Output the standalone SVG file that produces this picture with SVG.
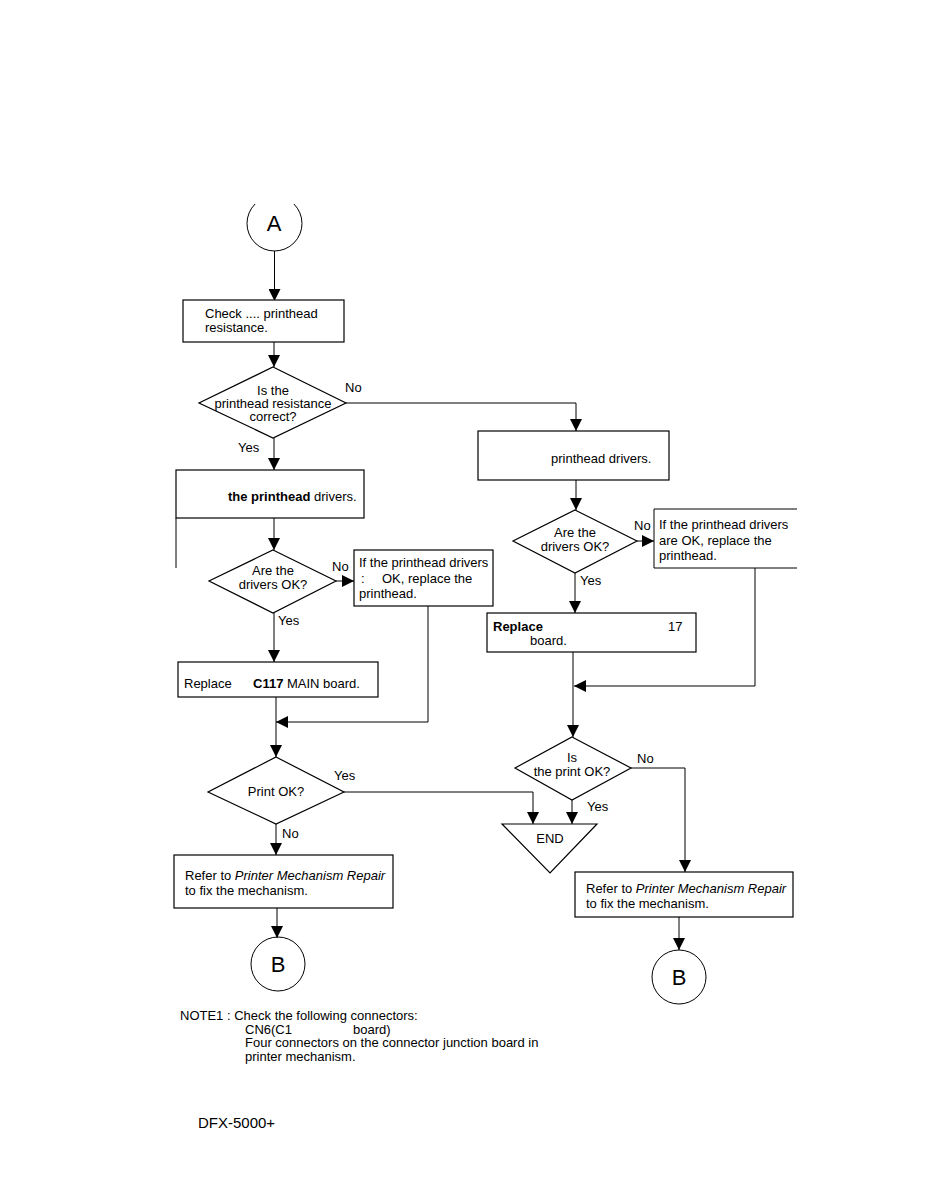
<svg xmlns="http://www.w3.org/2000/svg" width="932" height="1200" viewBox="0 0 932 1200">
<style>
.s{fill:none;stroke:#000;stroke-width:1}
.b{fill:#fff;stroke:#000;stroke-width:1.2}
.t{font-family:"Liberation Sans",Arial,sans-serif;font-size:13px;fill:#000}
.c{text-anchor:middle}
.big{font-family:"Liberation Sans",Arial,sans-serif;font-size:22px;fill:#000;text-anchor:middle}
</style>
<defs>
<marker id="ah" viewBox="0 0 10 10" refX="10" refY="5" markerWidth="13" markerHeight="12" markerUnits="userSpaceOnUse" orient="auto">
<path d="M0,0 L10,5 L0,10 z" fill="#000"/>
</marker>
</defs>
<rect width="932" height="1200" fill="#fff"/>

<g id="connectors">
<path class="s" d="M274.5,251 V301" marker-end="url(#ah)"/>
<path class="s" d="M274,342 V367" marker-end="url(#ah)"/>
<path class="s" d="M346,403 H576 V431" marker-end="url(#ah)"/>
<path class="s" d="M274,438 V470" marker-end="url(#ah)"/>
<path class="s" d="M176,518 V568"/>
<path class="s" d="M274,518 V550" marker-end="url(#ah)"/>
<path class="s" d="M336,581 H354" marker-end="url(#ah)"/>
<path class="s" d="M274,613 V662" marker-end="url(#ah)"/>
<path class="s" d="M428,606 V722 H276" marker-end="url(#ah)"/>
<path class="s" d="M276,697 V757" marker-end="url(#ah)"/>
<path class="s" d="M344,792 H533 V824" stroke-width="1.4" marker-end="url(#ah)"/>
<path class="s" d="M276,824 V855" marker-end="url(#ah)"/>
<path class="s" d="M277,908 V938" marker-end="url(#ah)"/>
<path class="s" d="M576,480 V510" marker-end="url(#ah)"/>
<path class="s" d="M637,541 H654" marker-end="url(#ah)"/>
<path class="s" d="M575,573 V613" marker-end="url(#ah)"/>
<path class="s" d="M573,652 V737" marker-end="url(#ah)"/>
<path class="s" d="M755,568 V686 H574" stroke-width="2" marker-end="url(#ah)"/>
<path class="s" d="M572,800 V824" marker-end="url(#ah)"/>
<path class="s" d="M631,768 H685 V872" stroke-width="1.5" marker-end="url(#ah)"/>
<path class="s" d="M679,917 V950" marker-end="url(#ah)"/>
</g>

<g id="labels">
<text class="t" x="345" y="392">No</text>
<text class="t" x="238" y="452">Yes</text>
<text class="t" x="332" y="571">No</text>
<text class="t" x="278" y="625">Yes</text>
<text class="t" x="334" y="780">Yes</text>
<text class="t" x="282" y="838">No</text>
<text class="t" x="634" y="530">No</text>
<text class="t" x="580" y="585">Yes</text>
<text class="t" x="637" y="763">No</text>
<text class="t" x="587" y="811">Yes</text>
</g>

<g id="startA">
<path class="s" d="M255.1,204 A27.5,27.5 0 1 0 293.9,204"/>
<text class="big" x="274" y="231">A</text>
</g>

<g id="checkRes">
<rect class="b" x="183" y="300" width="161" height="42"/>
<text class="t" x="205" y="318">Check .... printhead</text>
<text class="t" x="205" y="332">resistance.</text>
</g>

<g id="decRes">
<polygon class="b" points="273,367 346,403 273,438 199,403"/>
<text class="t c" x="273" y="395">Is the</text>
<text class="t c" x="273" y="408">printhead resistance</text>
<text class="t c" x="273" y="421">correct?</text>
</g>

<g id="checkDrvL">
<rect class="b" x="176" y="470" width="188" height="48"/>
<text class="t" x="228" y="501"><tspan font-weight="bold">the printhead</tspan> drivers.</text>
</g>

<g id="decDrvL">
<polygon class="b" points="273,550 336,581 273,613 209,581"/>
<text class="t c" x="273" y="575">Are the</text>
<text class="t c" x="273" y="589">drivers OK?</text>
</g>

<g id="replPhL">
<rect class="b" x="354" y="550" width="139" height="56"/>
<text class="t" x="359" y="567">If the printhead drivers</text>
<text class="t" x="361" y="583">:</text>
<text class="t" x="382" y="583">OK, replace the</text>
<text class="t" x="359" y="598">printhead.</text>
</g>

<g id="replMainL">
<rect class="b" x="178" y="662" width="200" height="35"/>
<text class="t" x="184" y="688">Replace</text>
<text class="t" x="253" y="688"><tspan font-weight="bold">C117</tspan> MAIN board.</text>
</g>

<g id="decPrintL">
<polygon class="b" points="276,757 344,792 276,824 208,792"/>
<text class="t c" x="276" y="796">Print OK?</text>
</g>

<g id="referL">
<rect class="b" x="174" y="855" width="219" height="53"/>
<text class="t" x="185" y="880">Refer to <tspan font-style="italic">Printer Mechanism Repair</tspan></text>
<text class="t" x="185" y="895">to fix the mechanism.</text>
</g>

<g id="endB_L">
<circle class="s" cx="278" cy="964" r="27"/>
<text class="big" x="278" y="972">B</text>
</g>

<g id="checkDrvR">
<rect class="b" x="478" y="431" width="191" height="49"/>
<text class="t" x="551" y="463">printhead drivers.</text>
</g>

<g id="decDrvR">
<polygon class="b" points="575,510 637,541 575,573 513,541"/>
<text class="t c" x="575" y="537">Are the</text>
<text class="t c" x="575" y="551">drivers OK?</text>
</g>

<g id="replPhR">
<path class="s" d="M797,509 H654 V568 H797" stroke-width="1.3"/>
<text class="t" x="659" y="529">If the printhead drivers</text>
<text class="t" x="659" y="545">are OK, replace the</text>
<text class="t" x="659" y="560">printhead.</text>
</g>

<g id="replMainR">
<rect class="b" x="487" y="613" width="209" height="39"/>
<text class="t" x="493" y="631" font-weight="bold">Replace</text>
<text class="t" x="668" y="631">17</text>
<text class="t" x="530" y="645">board.</text>
</g>

<g id="decPrintR">
<polygon class="b" points="572,737 631,768 572,800 515,768"/>
<text class="t c" x="572" y="762">Is</text>
<text class="t c" x="572" y="776">the print OK?</text>
</g>

<g id="end">
<polygon class="b" points="502,824 597,824 550,873"/>
<text class="t c" x="550" y="843">END</text>
</g>

<g id="referR">
<rect class="b" x="575" y="872" width="218" height="45"/>
<text class="t" x="586" y="893">Refer to <tspan font-style="italic">Printer Mechanism Repair</tspan></text>
<text class="t" x="586" y="908">to fix the mechanism.</text>
</g>

<g id="endB_R">
<circle class="s" cx="679" cy="977" r="27"/>
<text class="big" x="679" y="985">B</text>
</g>

<g id="note">
<text class="t" x="180" y="1020">NOTE1 : Check the following connectors:</text>
<text class="t" x="245" y="1034">CN6(C1</text>
<text class="t" x="353" y="1034">board)</text>
<text class="t" x="245" y="1047">Four connectors on the connector junction board in</text>
<text class="t" x="245" y="1061">printer mechanism.</text>
<text x="198" y="1128" font-family="Liberation Sans, Arial, sans-serif" font-size="15" fill="#000">DFX-5000+</text>
</g>
</svg>
